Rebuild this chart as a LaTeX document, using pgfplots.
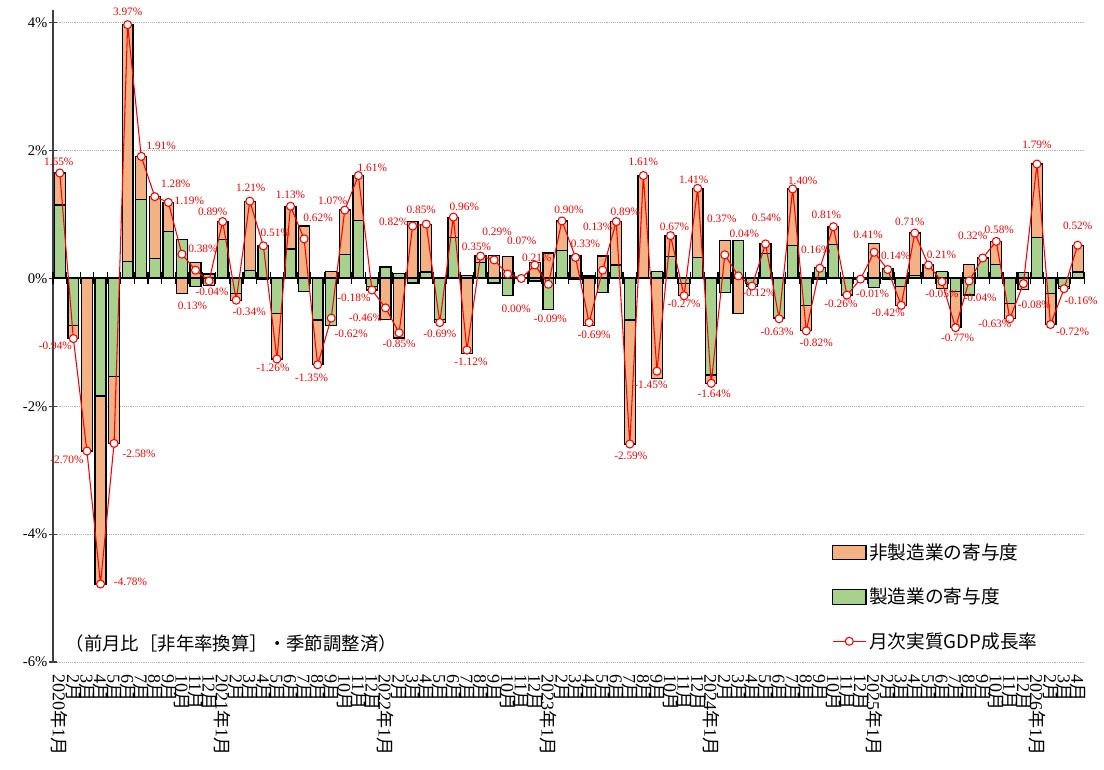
\documentclass[border=0pt]{standalone}
\usepackage{fontspec}
\usepackage{pgfplots}
\usepackage{pgfplotstable}
\pgfplotsset{compat=1.18}
\setmainfont{Liberation Serif}
\newfontfamily\cjk{Noto Sans CJK JP}
\newcommand\Y[1]{#1{\cjk 年}}
\newcommand\Mo[1]{#1{\cjk 月}}
\definecolor{nonmfg}{HTML}{F4B183}
\definecolor{mfg}{HTML}{A9D18E}
\definecolor{gdp}{HTML}{FF0000}

\pgfplotstableread{
i g o v lx ly
0 1.15 0.50 1.65 -1 -11
1 -0.73 -0.21 -0.94 -18 7
2 0.00 -2.70 -2.70 -20 9
3 -1.84 -2.94 -4.78 30 -2
4 -1.53 -1.05 -2.58 25 10
5 0.27 3.70 3.97 0 -13
6 1.23 0.68 1.91 20 -11
7 0.31 0.97 1.28 21 -13
8 0.73 0.46 1.19 21 -2
9 0.61 -0.23 0.38 21 -5
10 -0.12 0.25 0.13 -3 36
11 0.07 -0.11 -0.04 3 11
12 0.61 0.28 0.89 -10 -10
13 -0.23 -0.11 -0.34 13 12
14 0.13 1.08 1.21 1 -13
15 0.52 -0.01 0.51 12 -13
16 -0.55 -0.71 -1.26 -4 9
17 0.46 0.67 1.13 0 -11
18 -0.20 0.82 0.62 14 -21
19 -0.65 -0.70 -1.35 -6 13
20 -0.73 0.11 -0.62 20 16
21 0.38 0.69 1.07 -12 -9
22 0.91 0.70 1.61 14 -8
23 -0.13 -0.05 -0.18 -18 8
24 0.18 -0.64 -0.46 -20 10
25 0.08 -0.93 -0.85 0 11
26 -0.07 0.89 0.82 -19 -4
27 0.10 0.75 0.85 -5 -14
28 -0.64 -0.05 -0.69 0 11
29 0.64 0.32 0.96 11 -10
30 0.05 -1.17 -1.12 4 12
31 0.25 0.10 0.35 -4 -9
32 -0.07 0.36 0.29 3 -28
33 -0.27 0.34 0.07 14 -33
34 0.00 0.00 0.00 -5 30
35 -0.04 0.25 0.21 2 -7
36 -0.49 0.40 -0.09 2 35
37 0.44 0.46 0.90 7 -11
38 -0.02 0.35 0.33 10 -14
39 0.04 -0.73 -0.69 5 12
40 -0.22 0.35 0.13 -5 -43
41 0.21 0.68 0.89 9 -10
42 -0.65 -1.94 -2.59 1 12
43 0.00 1.61 1.61 0 -14
44 0.11 -1.56 -1.45 -6 14
45 0.34 0.33 0.67 4 -9
46 -0.08 -0.19 -0.27 0 8
47 0.33 1.08 1.41 -4 -9
48 -1.51 -0.13 -1.64 3 11
49 -0.22 0.59 0.37 -3 -36
50 0.59 -0.55 0.04 6 -42
51 -0.09 -0.03 -0.12 7 7
52 0.39 0.15 0.54 1 -26
53 -0.61 -0.02 -0.63 -2 13
54 0.51 0.89 1.40 10 -8
55 -0.42 -0.40 -0.82 10 12
56 0.17 -0.01 0.16 -4 -18
57 0.53 0.28 0.81 -7 -12
58 -0.26 0.00 -0.26 -6 9
59 0.00 -0.01 -0.01 12 15
60 -0.14 0.55 0.41 -6 -17
61 0.15 -0.01 0.14 8 -14
62 -0.12 -0.30 -0.42 -13 7
63 0.05 0.66 0.71 -5 -11
64 0.00 0.21 0.21 13 -10
65 0.11 -0.16 -0.05 0 12
66 -0.21 -0.56 -0.77 2 10
67 -0.26 0.22 -0.04 11 17
68 0.32 0.00 0.32 -10 -22
69 0.22 0.36 0.58 3 -12
70 -0.39 -0.24 -0.63 -15 5
71 0.09 -0.17 -0.08 11 21
72 0.64 1.15 1.79 0 -19
73 -0.24 -0.48 -0.72 22 7
74 -0.12 -0.04 -0.16 17 12
75 0.10 0.42 0.52 0 -19
}\data

\pgfplotsset{
  base/.style={scale only axis, width=773.6pt, height=489pt,
    xmin=-0.5, xmax=75.5, ymin=-6, ymax=4.2,
    at={(0,0)}, anchor=south west, clip=false},
  boxlegend/.style={legend image code/.code={\draw[##1] (0pt,-5.5pt) rectangle (25pt,5.5pt);}},
  linelegend/.style={legend image code/.code={\draw[mark repeat=2,mark phase=2,##1] plot coordinates {(0pt,0pt) (12.5pt,0pt) (25pt,0pt)};}},
}

\begin{document}
\begin{tikzpicture}
\begin{axis}[base,
  axis x line*=bottom, axis y line*=left,
  x axis line style={draw=none},
  y axis line style={-, black!75, line width=1pt},
  xtick={0,...,75},
  xticklabels={\Y{2020}\Mo{1},\Mo{2},\Mo{3},\Mo{4},\Mo{5},\Mo{6},\Mo{7},\Mo{8},\Mo{9},\Mo{10},\Mo{11},\Mo{12},
    \Y{2021}\Mo{1},\Mo{2},\Mo{3},\Mo{4},\Mo{5},\Mo{6},\Mo{7},\Mo{8},\Mo{9},\Mo{10},\Mo{11},\Mo{12},
    \Y{2022}\Mo{1},\Mo{2},\Mo{3},\Mo{4},\Mo{5},\Mo{6},\Mo{7},\Mo{8},\Mo{9},\Mo{10},\Mo{11},\Mo{12},
    \Y{2023}\Mo{1},\Mo{2},\Mo{3},\Mo{4},\Mo{5},\Mo{6},\Mo{7},\Mo{8},\Mo{9},\Mo{10},\Mo{11},\Mo{12},
    \Y{2024}\Mo{1},\Mo{2},\Mo{3},\Mo{4},\Mo{5},\Mo{6},\Mo{7},\Mo{8},\Mo{9},\Mo{10},\Mo{11},\Mo{12},
    \Y{2025}\Mo{1},\Mo{2},\Mo{3},\Mo{4},\Mo{5},\Mo{6},\Mo{7},\Mo{8},\Mo{9},\Mo{10},\Mo{11},\Mo{12},
    \Y{2026}\Mo{1},\Mo{2},\Mo{3},\Mo{4}},
  xtick style={draw=none},
  xticklabel style={rotate=-90, anchor=west, font=\rmfamily\fontsize{13.5}{13.5}\selectfont, inner sep=0pt, xshift=6pt},
  ytick={-6,-4,...,4},
  yticklabel={\pgfmathprintnumber[assume math mode=true]{\tick}\%},
  yticklabel style={font=\rmfamily\fontsize{11}{11}\selectfont, inner sep=1pt},
  ytick style={black!75, line width=0.8pt},
  tick align=center, major tick length=6pt,
  ymajorgrids, grid style={densely dotted, black!30, line width=0.6pt},
  legend style={at={(rel axis cs:0.755,0.186)}, anchor=north west, draw=none, fill=none,
    font=\cjk\fontsize{14}{16}\selectfont, row sep=16pt, inner sep=0pt,
    nodes={inner sep=2pt}},
  legend cell align=left,
]
\addplot[ybar, bar shift=0pt, bar width=0.8, fill=nonmfg, draw=black, line width=0.9pt, boxlegend]
  table[x=i, y expr={max(\thisrow{g},0)+max(\thisrow{o},0)}] {\data};
\addlegendentry{非製造業の寄与度}
\addplot[ybar, bar shift=0pt, bar width=0.8, fill=nonmfg, draw=black, line width=0.9pt, forget plot]
  table[x=i, y expr={min(\thisrow{g},0)+min(\thisrow{o},0)}] {\data};
\addplot[ybar, bar shift=0pt, bar width=0.8, fill=mfg, draw=black, line width=0.9pt, boxlegend]
  table[x=i, y expr={max(\thisrow{g},0)}] {\data};
\addlegendentry{製造業の寄与度}
\addplot[ybar, bar shift=0pt, bar width=0.8, fill=mfg, draw=black, line width=0.9pt, forget plot]
  table[x=i, y expr={min(\thisrow{g},0)}] {\data};
\addlegendimage{gdp, line width=0.8pt, mark=*, mark size=3pt, mark options={fill=white, draw=gdp, line width=0.8pt}, linelegend}
\addlegendentry{月次実質GDP成長率}
\node[anchor=west, font=\cjk\fontsize{13.8}{15}\selectfont, inner sep=0pt] at (rel axis cs:0.012,0.029) {（前月比［非年率換算］・季節調整済）};
\end{axis}
\begin{axis}[base,
  axis x line=middle, axis y line=none,
  x axis line style={-, black, line width=1.5pt},
  xtick={-0.5,0.5,...,75.5}, xticklabels={}, ytick=\empty,
  xtick style={black, line width=0.8pt},
  tick align=center, major tick length=9pt,
]
\addplot[gdp, line width=0.8pt, mark=*, mark size=3pt,
  mark options={fill=white, draw=gdp, line width=0.8pt, solid},
  visualization depends on={0.75*\thisrow{lx} \as \lx},
  visualization depends on={-0.75*\thisrow{ly} \as \ly},
  point meta=y,
  nodes near coords={\pgfmathprintnumber[fixed,fixed zerofill,precision=2,assume math mode=true]{\pgfplotspointmeta}\%},
  nodes near coords style={anchor=center, inner sep=0pt, xshift=\lx pt, yshift=\ly pt, text=gdp, font=\rmfamily\fontsize{8.5}{8.5}\selectfont},
] table[x=i, y=v] {\data};
\end{axis}
\pgfresetboundingbox
\path[use as bounding box] (-39.75pt,-80.25pt) rectangle (788.25pt,496.5pt);
\end{tikzpicture}
\end{document}
